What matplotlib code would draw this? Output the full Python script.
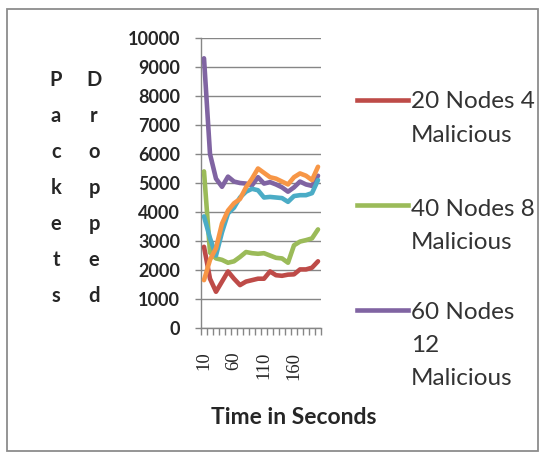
import matplotlib
matplotlib.use("Agg")
import matplotlib.pyplot as plt
from matplotlib.lines import Line2D
from matplotlib.patches import Rectangle

# Simulation time (s) and packets dropped per run
times = [10, 20, 30, 40, 50, 60, 70, 80, 90, 100,
         110, 120, 130, 140, 150, 160, 170, 180, 190, 200]

nodes20 = [2800, 1700, 1250, 1600, 1950, 1700, 1480, 1600, 1650, 1700,
           1700, 1950, 1820, 1800, 1840, 1850, 2020, 2020, 2080, 2300]
nodes40 = [5400, 2600, 2400, 2350, 2250, 2300, 2450, 2620, 2580, 2560,
           2580, 2500, 2420, 2400, 2250, 2850, 2980, 3030, 3090, 3400]
nodes60 = [9300, 6000, 5150, 4870, 5220, 5050, 5000, 4980, 4920, 5200,
           4980, 5030, 4950, 4850, 4700, 4850, 5050, 4950, 4900, 5250]
series4 = [3850, 3100, 2500, 3300, 3950, 4150, 4500, 4700, 4800, 4750,
           4500, 4520, 4500, 4480, 4350, 4550, 4580, 4580, 4650, 5100]
series5 = [1650, 2350, 2750, 3600, 4050, 4300, 4450, 4850, 5150, 5500,
           5350, 5200, 5150, 5050, 4950, 5200, 5330, 5250, 5100, 5560]

legend_labels = [["20 Nodes 4", "Malicious"],
                 ["40 Nodes 8", "Malicious"],
                 ["60 Nodes", "12", "Malicious"]]
y_ticks = list(range(0, 10001, 1000))
x_tick_labels = ["10", "60", "110", "160"]

colors = ["#BE4B48", "#9BBB59", "#8064A2", "#4BACC6", "#F79646"]
W, H = 544, 457


def fx(x):
    return x / W


def fy(y):
    return 1 - y / H


fig = plt.figure(figsize=(W / 100, H / 100), dpi=100)
fig.patch.set_facecolor("white")

# chart border
fig.add_artist(Rectangle((fx(7), fy(451)), fx(538) - fx(7), fy(9) - fy(451),
                         transform=fig.transFigure, fill=False,
                         edgecolor="#8c8c8c", lw=1.3))

ax = fig.add_axes([fx(201), fy(328), fx(321) - fx(201), fy(38) - fy(328)])
cats = list(range(1, len(times) + 1))
for vals, c in zip([nodes20, nodes40, nodes60, series4, series5], colors):
    ax.plot(cats, vals, color=c, lw=3.3, solid_joinstyle="round",
            solid_capstyle="round", zorder=3)

ax.set_xlim(0.5, len(times) + 0.5)
ax.set_ylim(0, 10000)
ax.set_yticks(y_ticks)
ax.set_yticklabels([str(v) for v in y_ticks], fontfamily="Lato",
                   fontweight="bold", fontsize=13, color="#262626")
ax.grid(axis="y", color="#868686", lw=1.0, zorder=0)
ax.tick_params(axis="y", length=4, width=1, color="#868686", pad=11)

label_pos = [times.index(int(t)) + 1 for t in x_tick_labels]
ax.set_xticks(label_pos)
ax.set_xticklabels(x_tick_labels, rotation=90, fontfamily="Liberation Serif",
                   fontsize=13.5, color="#262626")
ax.set_xticks([c - 0.5 for c in cats] + [len(times) + 0.5], minor=True)
ax.tick_params(axis="x", which="major", length=0, pad=17)
ax.tick_params(axis="x", which="minor", length=5, width=1, color="#868686")

for s in ["top", "right"]:
    ax.spines[s].set_visible(False)
for s in ["left", "bottom"]:
    ax.spines[s].set_color("#868686")
    ax.spines[s].set_linewidth(1.0)

# stacked axis title
for col_x, word in [(56, "Packets"), (94, "Dropped")]:
    for i, ch in enumerate(word):
        fig.text(fx(col_x), fy(86 + i * 36), ch, ha="center", va="baseline",
                 fontfamily="Lato", fontweight="bold", fontsize=14.5,
                 color="#262626")

fig.text(fx(294), fy(417), "Time in Seconds", ha="center", va="center",
         fontfamily="Lato", fontweight="bold", fontsize=16.5, color="#262626")

# legend
legend_rows = [(100, [108, 142]), (205, [216, 249]), (310, [319, 352, 385])]
for (line_y, baselines), lines, c in zip(legend_rows, legend_labels, colors):
    fig.add_artist(Line2D([fx(357), fx(408)], [fy(line_y), fy(line_y)],
                          transform=fig.transFigure, color=c, lw=3.3))
    for b, txt in zip(baselines, lines):
        fig.text(fx(411), fy(b), txt, ha="left", va="baseline",
                 fontfamily="Lato", fontsize=17.5, color="#333333")

fig.savefig("out.png", dpi=100, facecolor="white")
